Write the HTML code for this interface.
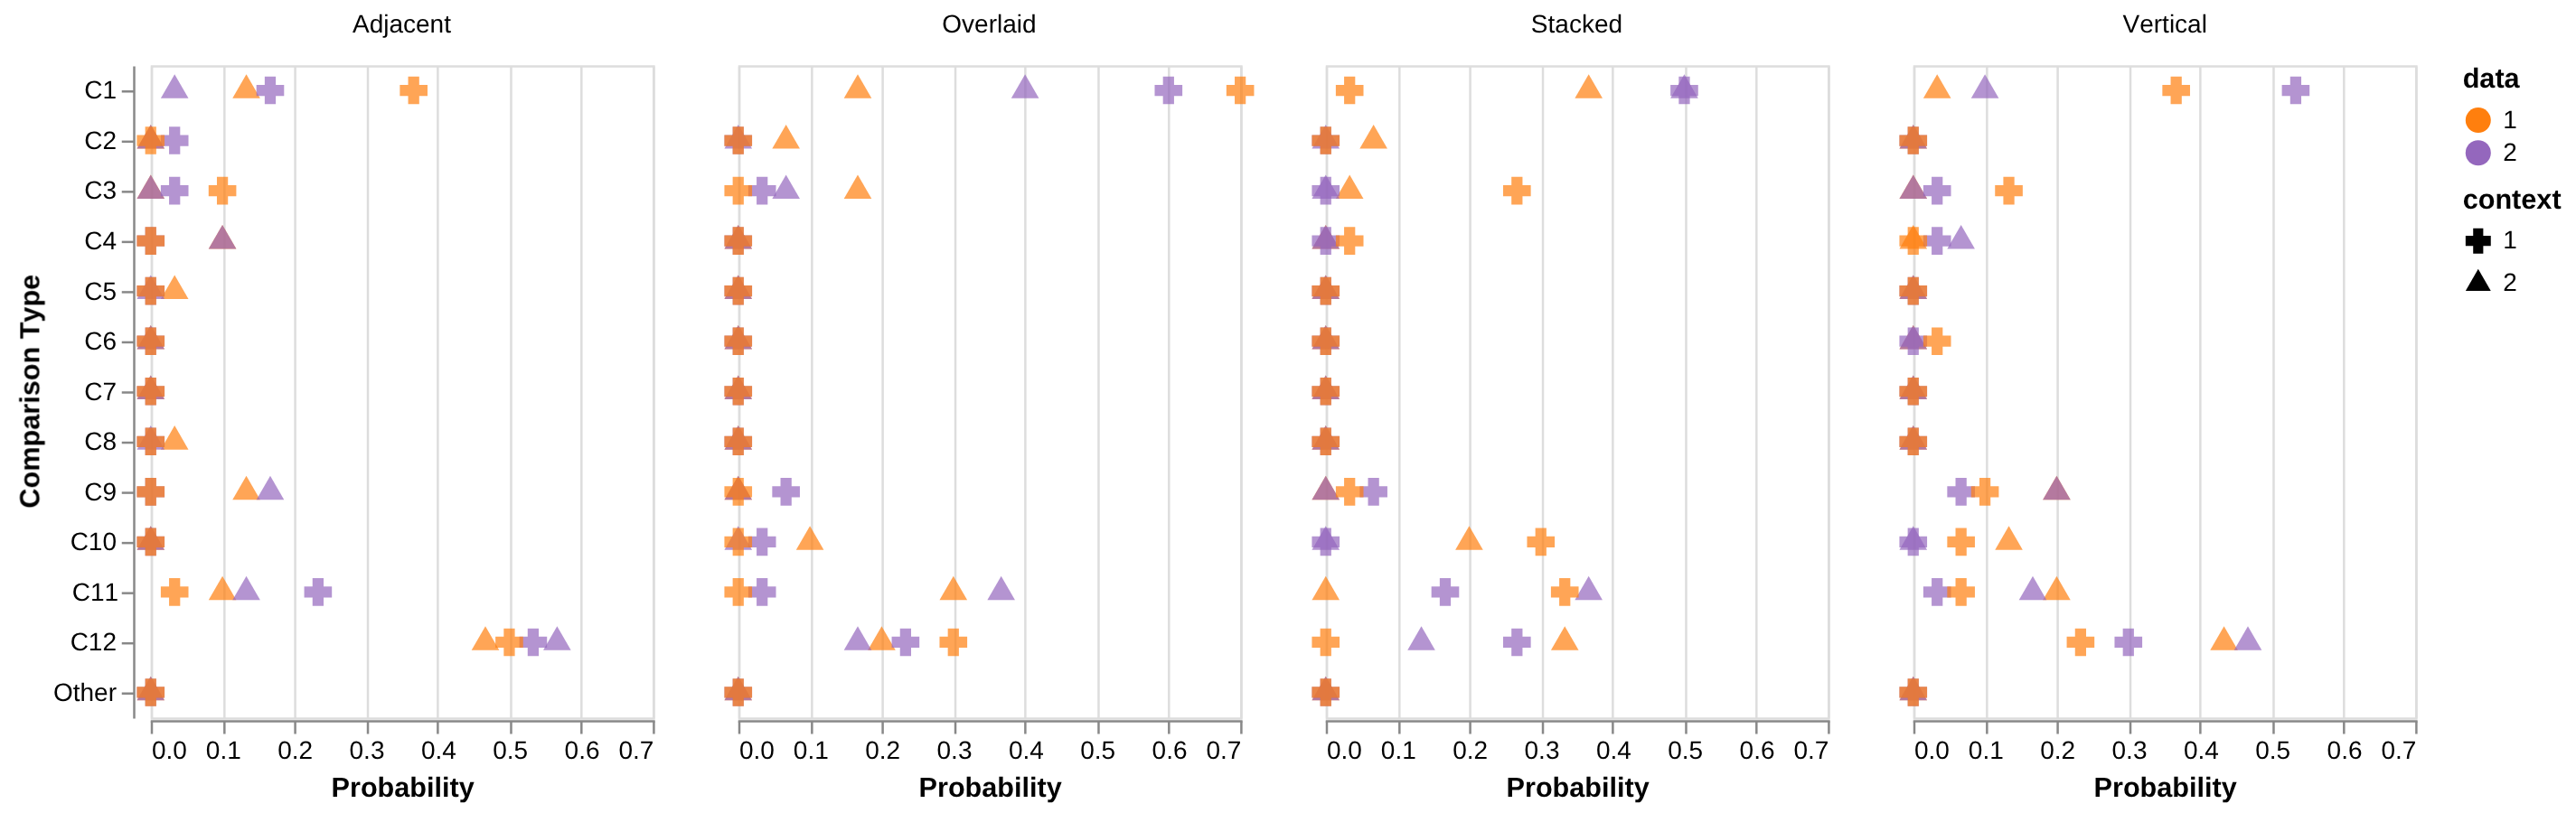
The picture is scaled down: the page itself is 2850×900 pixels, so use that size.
<!DOCTYPE html>
<html><head><meta charset="utf-8"><title>Comparison Type by Probability</title>
<style>html,body{margin:0;padding:0;background:#fff;}svg{display:block;}text{font-family:"Liberation Sans",sans-serif;fill:#000;text-rendering:geometricPrecision;font-kerning:none;}.b{font-weight:bold;}</style></head><body>
<svg width="2850" height="900" viewBox="0 0 2850 900">
<rect x="0" y="0" width="2850" height="900" fill="#fff"/>
<g opacity="0.999">
<text class="b" transform="translate(43.4 433.25) rotate(-90)" text-anchor="middle" font-size="30.65">Comparison Type</text>
<g stroke="#888888" stroke-width="2.5" fill="none">
<line x1="148.5" y1="73.5" x2="148.5" y2="795.5"/>
<line x1="134.75" y1="101.27" x2="148.5" y2="101.27"/>
<line x1="134.75" y1="156.81" x2="148.5" y2="156.81"/>
<line x1="134.75" y1="212.35" x2="148.5" y2="212.35"/>
<line x1="134.75" y1="267.88" x2="148.5" y2="267.88"/>
<line x1="134.75" y1="323.42" x2="148.5" y2="323.42"/>
<line x1="134.75" y1="378.96" x2="148.5" y2="378.96"/>
<line x1="134.75" y1="434.5" x2="148.5" y2="434.5"/>
<line x1="134.75" y1="490.04" x2="148.5" y2="490.04"/>
<line x1="134.75" y1="545.58" x2="148.5" y2="545.58"/>
<line x1="134.75" y1="601.12" x2="148.5" y2="601.12"/>
<line x1="134.75" y1="656.65" x2="148.5" y2="656.65"/>
<line x1="134.75" y1="712.19" x2="148.5" y2="712.19"/>
<line x1="134.75" y1="767.73" x2="148.5" y2="767.73"/>
</g>
<g font-size="28" text-anchor="end">
<text x="129" y="109.37">C1</text>
<text x="129" y="164.91">C2</text>
<text x="129" y="220.45">C3</text>
<text x="129" y="275.98">C4</text>
<text x="129" y="331.52">C5</text>
<text x="129" y="387.06">C6</text>
<text x="129" y="442.6">C7</text>
<text x="129" y="498.14">C8</text>
<text x="129" y="553.68">C9</text>
<text x="129" y="609.22">C10</text>
<text x="131.08" y="664.75">C11</text>
<text x="129" y="720.29">C12</text>
<text x="129" y="775.83">Other</text>
</g>
<text x="444.45" y="36" text-anchor="middle" font-size="28">Adjacent</text>
<g stroke="#dddddd" stroke-width="2.5" fill="none">
<line x1="168" y1="73.5" x2="168" y2="795.5"/>
<line x1="248.34" y1="73.5" x2="248.34" y2="795.5"/>
<line x1="326.59" y1="73.5" x2="326.59" y2="795.5"/>
<line x1="407.03" y1="73.5" x2="407.03" y2="795.5"/>
<line x1="484.37" y1="73.5" x2="484.37" y2="795.5"/>
<line x1="565.47" y1="73.5" x2="565.47" y2="795.5"/>
<line x1="643.31" y1="73.5" x2="643.31" y2="795.5"/>
<line x1="723.4" y1="73.5" x2="723.4" y2="795.5"/>
<rect x="168" y="73.5" width="555.4" height="722"/>
</g>
<g stroke="#888888" stroke-width="2.5" fill="none">
<line x1="166.75" y1="798.5" x2="724.65" y2="798.5"/>
<line x1="168" y1="798.5" x2="168" y2="812.5"/>
<line x1="248.34" y1="798.5" x2="248.34" y2="812.5"/>
<line x1="326.59" y1="798.5" x2="326.59" y2="812.5"/>
<line x1="407.03" y1="798.5" x2="407.03" y2="812.5"/>
<line x1="484.37" y1="798.5" x2="484.37" y2="812.5"/>
<line x1="565.47" y1="798.5" x2="565.47" y2="812.5"/>
<line x1="643.31" y1="798.5" x2="643.31" y2="812.5"/>
<line x1="723.4" y1="798.5" x2="723.4" y2="812.5"/>
</g>
<g font-size="28">
<text x="168" y="840.46" text-anchor="start">0.0</text>
<text x="247.34" y="840.46" text-anchor="middle">0.1</text>
<text x="326.69" y="840.46" text-anchor="middle">0.2</text>
<text x="406.03" y="840.46" text-anchor="middle">0.3</text>
<text x="485.37" y="840.46" text-anchor="middle">0.4</text>
<text x="564.71" y="840.46" text-anchor="middle">0.5</text>
<text x="644.06" y="840.46" text-anchor="middle">0.6</text>
<text x="723.4" y="840.46" text-anchor="end">0.7</text>
</g>
<text class="b" x="445.7" y="882.1" text-anchor="middle" font-size="30.65">Probability</text>
<path d="M272.54 82.34L257.23 108.86L287.85 108.86Z" fill="#ff7f0e" fill-opacity="0.7"/>
<path d="M166.75 137.88L151.44 164.4L182.06 164.4Z" fill="#ff7f0e" fill-opacity="0.7"/>
<path d="M166.75 193.42L151.44 219.93L182.06 219.93Z" fill="#ff7f0e" fill-opacity="0.7"/>
<path d="M246.09 248.96L230.78 275.47L261.4 275.47Z" fill="#ff7f0e" fill-opacity="0.7"/>
<path d="M193.2 304.5L177.89 331.01L208.51 331.01Z" fill="#ff7f0e" fill-opacity="0.7"/>
<path d="M166.75 360.03L151.44 386.55L182.06 386.55Z" fill="#ff7f0e" fill-opacity="0.7"/>
<path d="M166.75 415.57L151.44 442.09L182.06 442.09Z" fill="#ff7f0e" fill-opacity="0.7"/>
<path d="M193.2 471.11L177.89 497.63L208.51 497.63Z" fill="#ff7f0e" fill-opacity="0.7"/>
<path d="M272.54 526.65L257.23 553.17L287.85 553.17Z" fill="#ff7f0e" fill-opacity="0.7"/>
<path d="M166.75 582.19L151.44 608.7L182.06 608.7Z" fill="#ff7f0e" fill-opacity="0.7"/>
<path d="M246.09 637.73L230.78 664.24L261.4 664.24Z" fill="#ff7f0e" fill-opacity="0.7"/>
<path d="M537.02 693.26L521.71 719.78L552.33 719.78Z" fill="#ff7f0e" fill-opacity="0.7"/>
<path d="M166.75 748.8L151.44 775.32L182.06 775.32Z" fill="#ff7f0e" fill-opacity="0.7"/>
<path d="M193.2 82.34L177.89 108.86L208.51 108.86Z" fill="#9467bd" fill-opacity="0.7"/>
<path d="M166.75 137.88L151.44 164.4L182.06 164.4Z" fill="#9467bd" fill-opacity="0.7"/>
<path d="M166.75 193.42L151.44 219.93L182.06 219.93Z" fill="#9467bd" fill-opacity="0.7"/>
<path d="M246.09 248.96L230.78 275.47L261.4 275.47Z" fill="#9467bd" fill-opacity="0.7"/>
<path d="M166.75 304.5L151.44 331.01L182.06 331.01Z" fill="#9467bd" fill-opacity="0.7"/>
<path d="M166.75 360.03L151.44 386.55L182.06 386.55Z" fill="#9467bd" fill-opacity="0.7"/>
<path d="M166.75 415.57L151.44 442.09L182.06 442.09Z" fill="#9467bd" fill-opacity="0.7"/>
<path d="M166.75 471.11L151.44 497.63L182.06 497.63Z" fill="#9467bd" fill-opacity="0.7"/>
<path d="M298.99 526.65L283.68 553.17L314.3 553.17Z" fill="#9467bd" fill-opacity="0.7"/>
<path d="M166.75 582.19L151.44 608.7L182.06 608.7Z" fill="#9467bd" fill-opacity="0.7"/>
<path d="M272.54 637.73L257.23 664.24L287.85 664.24Z" fill="#9467bd" fill-opacity="0.7"/>
<path d="M616.36 693.26L601.05 719.78L631.67 719.78Z" fill="#9467bd" fill-opacity="0.7"/>
<path d="M166.75 748.8L151.44 775.32L182.06 775.32Z" fill="#9467bd" fill-opacity="0.7"/>
<path d="M283.68 93.9L283.68 106.14L292.86 106.14L292.86 115.33L305.11 115.33L305.11 106.14L314.3 106.14L314.3 93.9L305.11 93.9L305.11 84.71L292.86 84.71L292.86 93.9Z" fill="#9467bd" fill-opacity="0.7"/>
<path d="M177.89 149.43L177.89 161.68L187.07 161.68L187.07 170.87L199.32 170.87L199.32 161.68L208.51 161.68L208.51 149.43L199.32 149.43L199.32 140.25L187.07 140.25L187.07 149.43Z" fill="#9467bd" fill-opacity="0.7"/>
<path d="M177.89 204.97L177.89 217.22L187.07 217.22L187.07 226.41L199.32 226.41L199.32 217.22L208.51 217.22L208.51 204.97L199.32 204.97L199.32 195.79L187.07 195.79L187.07 204.97Z" fill="#9467bd" fill-opacity="0.7"/>
<path d="M151.44 260.51L151.44 272.76L160.63 272.76L160.63 281.94L172.87 281.94L172.87 272.76L182.06 272.76L182.06 260.51L172.87 260.51L172.87 251.33L160.63 251.33L160.63 260.51Z" fill="#9467bd" fill-opacity="0.7"/>
<path d="M151.44 316.05L151.44 328.3L160.63 328.3L160.63 337.48L172.87 337.48L172.87 328.3L182.06 328.3L182.06 316.05L172.87 316.05L172.87 306.86L160.63 306.86L160.63 316.05Z" fill="#9467bd" fill-opacity="0.7"/>
<path d="M151.44 371.59L151.44 383.84L160.63 383.84L160.63 393.02L172.87 393.02L172.87 383.84L182.06 383.84L182.06 371.59L172.87 371.59L172.87 362.4L160.63 362.4L160.63 371.59Z" fill="#9467bd" fill-opacity="0.7"/>
<path d="M151.44 427.13L151.44 439.37L160.63 439.37L160.63 448.56L172.87 448.56L172.87 439.37L182.06 439.37L182.06 427.13L172.87 427.13L172.87 417.94L160.63 417.94L160.63 427.13Z" fill="#9467bd" fill-opacity="0.7"/>
<path d="M151.44 482.66L151.44 494.91L160.63 494.91L160.63 504.1L172.87 504.1L172.87 494.91L182.06 494.91L182.06 482.66L172.87 482.66L172.87 473.48L160.63 473.48L160.63 482.66Z" fill="#9467bd" fill-opacity="0.7"/>
<path d="M151.44 538.2L151.44 550.45L160.63 550.45L160.63 559.64L172.87 559.64L172.87 550.45L182.06 550.45L182.06 538.2L172.87 538.2L172.87 529.02L160.63 529.02L160.63 538.2Z" fill="#9467bd" fill-opacity="0.7"/>
<path d="M151.44 593.74L151.44 605.99L160.63 605.99L160.63 615.17L172.87 615.17L172.87 605.99L182.06 605.99L182.06 593.74L172.87 593.74L172.87 584.56L160.63 584.56L160.63 593.74Z" fill="#9467bd" fill-opacity="0.7"/>
<path d="M336.57 649.28L336.57 661.53L345.76 661.53L345.76 670.71L358.01 670.71L358.01 661.53L367.19 661.53L367.19 649.28L358.01 649.28L358.01 640.09L345.76 640.09L345.76 649.28Z" fill="#9467bd" fill-opacity="0.7"/>
<path d="M574.6 704.82L574.6 717.07L583.79 717.07L583.79 726.25L596.04 726.25L596.04 717.07L605.22 717.07L605.22 704.82L596.04 704.82L596.04 695.63L583.79 695.63L583.79 704.82Z" fill="#9467bd" fill-opacity="0.7"/>
<path d="M151.44 760.36L151.44 772.6L160.63 772.6L160.63 781.79L172.87 781.79L172.87 772.6L182.06 772.6L182.06 760.36L172.87 760.36L172.87 751.17L160.63 751.17L160.63 760.36Z" fill="#9467bd" fill-opacity="0.7"/>
<path d="M442.36 93.9L442.36 106.14L451.55 106.14L451.55 115.33L463.8 115.33L463.8 106.14L472.98 106.14L472.98 93.9L463.8 93.9L463.8 84.71L451.55 84.71L451.55 93.9Z" fill="#ff7f0e" fill-opacity="0.7"/>
<path d="M151.44 149.43L151.44 161.68L160.63 161.68L160.63 170.87L172.87 170.87L172.87 161.68L182.06 161.68L182.06 149.43L172.87 149.43L172.87 140.25L160.63 140.25L160.63 149.43Z" fill="#ff7f0e" fill-opacity="0.7"/>
<path d="M230.78 204.97L230.78 217.22L239.97 217.22L239.97 226.41L252.22 226.41L252.22 217.22L261.4 217.22L261.4 204.97L252.22 204.97L252.22 195.79L239.97 195.79L239.97 204.97Z" fill="#ff7f0e" fill-opacity="0.7"/>
<path d="M151.44 260.51L151.44 272.76L160.63 272.76L160.63 281.94L172.87 281.94L172.87 272.76L182.06 272.76L182.06 260.51L172.87 260.51L172.87 251.33L160.63 251.33L160.63 260.51Z" fill="#ff7f0e" fill-opacity="0.7"/>
<path d="M151.44 316.05L151.44 328.3L160.63 328.3L160.63 337.48L172.87 337.48L172.87 328.3L182.06 328.3L182.06 316.05L172.87 316.05L172.87 306.86L160.63 306.86L160.63 316.05Z" fill="#ff7f0e" fill-opacity="0.7"/>
<path d="M151.44 371.59L151.44 383.84L160.63 383.84L160.63 393.02L172.87 393.02L172.87 383.84L182.06 383.84L182.06 371.59L172.87 371.59L172.87 362.4L160.63 362.4L160.63 371.59Z" fill="#ff7f0e" fill-opacity="0.7"/>
<path d="M151.44 427.13L151.44 439.37L160.63 439.37L160.63 448.56L172.87 448.56L172.87 439.37L182.06 439.37L182.06 427.13L172.87 427.13L172.87 417.94L160.63 417.94L160.63 427.13Z" fill="#ff7f0e" fill-opacity="0.7"/>
<path d="M151.44 482.66L151.44 494.91L160.63 494.91L160.63 504.1L172.87 504.1L172.87 494.91L182.06 494.91L182.06 482.66L172.87 482.66L172.87 473.48L160.63 473.48L160.63 482.66Z" fill="#ff7f0e" fill-opacity="0.7"/>
<path d="M151.44 538.2L151.44 550.45L160.63 550.45L160.63 559.64L172.87 559.64L172.87 550.45L182.06 550.45L182.06 538.2L172.87 538.2L172.87 529.02L160.63 529.02L160.63 538.2Z" fill="#ff7f0e" fill-opacity="0.7"/>
<path d="M151.44 593.74L151.44 605.99L160.63 605.99L160.63 615.17L172.87 615.17L172.87 605.99L182.06 605.99L182.06 593.74L172.87 593.74L172.87 584.56L160.63 584.56L160.63 593.74Z" fill="#ff7f0e" fill-opacity="0.7"/>
<path d="M177.89 649.28L177.89 661.53L187.07 661.53L187.07 670.71L199.32 670.71L199.32 661.53L208.51 661.53L208.51 649.28L199.32 649.28L199.32 640.09L187.07 640.09L187.07 649.28Z" fill="#ff7f0e" fill-opacity="0.7"/>
<path d="M548.15 704.82L548.15 717.07L557.34 717.07L557.34 726.25L569.59 726.25L569.59 717.07L578.77 717.07L578.77 704.82L569.59 704.82L569.59 695.63L557.34 695.63L557.34 704.82Z" fill="#ff7f0e" fill-opacity="0.7"/>
<path d="M151.44 760.36L151.44 772.6L160.63 772.6L160.63 781.79L172.87 781.79L172.87 772.6L182.06 772.6L182.06 760.36L172.87 760.36L172.87 751.17L160.63 751.17L160.63 760.36Z" fill="#ff7f0e" fill-opacity="0.7"/>
<text x="1094.45" y="36" text-anchor="middle" font-size="28">Overlaid</text>
<g stroke="#dddddd" stroke-width="2.5" fill="none">
<line x1="818" y1="73.5" x2="818" y2="795.5"/>
<line x1="898.34" y1="73.5" x2="898.34" y2="795.5"/>
<line x1="976.59" y1="73.5" x2="976.59" y2="795.5"/>
<line x1="1057.03" y1="73.5" x2="1057.03" y2="795.5"/>
<line x1="1134.37" y1="73.5" x2="1134.37" y2="795.5"/>
<line x1="1215.47" y1="73.5" x2="1215.47" y2="795.5"/>
<line x1="1293.31" y1="73.5" x2="1293.31" y2="795.5"/>
<line x1="1373.4" y1="73.5" x2="1373.4" y2="795.5"/>
<rect x="818" y="73.5" width="555.4" height="722"/>
</g>
<g stroke="#888888" stroke-width="2.5" fill="none">
<line x1="816.75" y1="798.5" x2="1374.65" y2="798.5"/>
<line x1="818" y1="798.5" x2="818" y2="812.5"/>
<line x1="898.34" y1="798.5" x2="898.34" y2="812.5"/>
<line x1="976.59" y1="798.5" x2="976.59" y2="812.5"/>
<line x1="1057.03" y1="798.5" x2="1057.03" y2="812.5"/>
<line x1="1134.37" y1="798.5" x2="1134.37" y2="812.5"/>
<line x1="1215.47" y1="798.5" x2="1215.47" y2="812.5"/>
<line x1="1293.31" y1="798.5" x2="1293.31" y2="812.5"/>
<line x1="1373.4" y1="798.5" x2="1373.4" y2="812.5"/>
</g>
<g font-size="28">
<text x="818" y="840.46" text-anchor="start">0.0</text>
<text x="897.34" y="840.46" text-anchor="middle">0.1</text>
<text x="976.69" y="840.46" text-anchor="middle">0.2</text>
<text x="1056.03" y="840.46" text-anchor="middle">0.3</text>
<text x="1135.37" y="840.46" text-anchor="middle">0.4</text>
<text x="1214.71" y="840.46" text-anchor="middle">0.5</text>
<text x="1294.06" y="840.46" text-anchor="middle">0.6</text>
<text x="1373.4" y="840.46" text-anchor="end">0.7</text>
</g>
<text class="b" x="1095.7" y="882.1" text-anchor="middle" font-size="30.65">Probability</text>
<path d="M948.99 82.34L933.68 108.86L964.3 108.86Z" fill="#ff7f0e" fill-opacity="0.7"/>
<path d="M869.65 137.88L854.34 164.4L884.95 164.4Z" fill="#ff7f0e" fill-opacity="0.7"/>
<path d="M948.99 193.42L933.68 219.93L964.3 219.93Z" fill="#ff7f0e" fill-opacity="0.7"/>
<path d="M816.75 248.96L801.44 275.47L832.06 275.47Z" fill="#ff7f0e" fill-opacity="0.7"/>
<path d="M816.75 304.5L801.44 331.01L832.06 331.01Z" fill="#ff7f0e" fill-opacity="0.7"/>
<path d="M816.75 360.03L801.44 386.55L832.06 386.55Z" fill="#ff7f0e" fill-opacity="0.7"/>
<path d="M816.75 415.57L801.44 442.09L832.06 442.09Z" fill="#ff7f0e" fill-opacity="0.7"/>
<path d="M816.75 471.11L801.44 497.63L832.06 497.63Z" fill="#ff7f0e" fill-opacity="0.7"/>
<path d="M816.75 526.65L801.44 553.17L832.06 553.17Z" fill="#ff7f0e" fill-opacity="0.7"/>
<path d="M896.09 582.19L880.78 608.7L911.4 608.7Z" fill="#ff7f0e" fill-opacity="0.7"/>
<path d="M1054.78 637.73L1039.47 664.24L1070.09 664.24Z" fill="#ff7f0e" fill-opacity="0.7"/>
<path d="M975.44 693.26L960.13 719.78L990.75 719.78Z" fill="#ff7f0e" fill-opacity="0.7"/>
<path d="M816.75 748.8L801.44 775.32L832.06 775.32Z" fill="#ff7f0e" fill-opacity="0.7"/>
<path d="M1134.12 82.34L1118.81 108.86L1149.43 108.86Z" fill="#9467bd" fill-opacity="0.7"/>
<path d="M816.75 137.88L801.44 164.4L832.06 164.4Z" fill="#9467bd" fill-opacity="0.7"/>
<path d="M869.65 193.42L854.34 219.93L884.95 219.93Z" fill="#9467bd" fill-opacity="0.7"/>
<path d="M816.75 248.96L801.44 275.47L832.06 275.47Z" fill="#9467bd" fill-opacity="0.7"/>
<path d="M816.75 304.5L801.44 331.01L832.06 331.01Z" fill="#9467bd" fill-opacity="0.7"/>
<path d="M816.75 360.03L801.44 386.55L832.06 386.55Z" fill="#9467bd" fill-opacity="0.7"/>
<path d="M816.75 415.57L801.44 442.09L832.06 442.09Z" fill="#9467bd" fill-opacity="0.7"/>
<path d="M816.75 471.11L801.44 497.63L832.06 497.63Z" fill="#9467bd" fill-opacity="0.7"/>
<path d="M816.75 526.65L801.44 553.17L832.06 553.17Z" fill="#9467bd" fill-opacity="0.7"/>
<path d="M816.75 582.19L801.44 608.7L832.06 608.7Z" fill="#9467bd" fill-opacity="0.7"/>
<path d="M1107.67 637.73L1092.36 664.24L1122.98 664.24Z" fill="#9467bd" fill-opacity="0.7"/>
<path d="M948.99 693.26L933.68 719.78L964.3 719.78Z" fill="#9467bd" fill-opacity="0.7"/>
<path d="M816.75 748.8L801.44 775.32L832.06 775.32Z" fill="#9467bd" fill-opacity="0.7"/>
<path d="M1277.5 93.9L1277.5 106.14L1286.68 106.14L1286.68 115.33L1298.93 115.33L1298.93 106.14L1308.12 106.14L1308.12 93.9L1298.93 93.9L1298.93 84.71L1286.68 84.71L1286.68 93.9Z" fill="#9467bd" fill-opacity="0.7"/>
<path d="M801.44 149.43L801.44 161.68L810.63 161.68L810.63 170.87L822.87 170.87L822.87 161.68L832.06 161.68L832.06 149.43L822.87 149.43L822.87 140.25L810.63 140.25L810.63 149.43Z" fill="#9467bd" fill-opacity="0.7"/>
<path d="M827.89 204.97L827.89 217.22L837.07 217.22L837.07 226.41L849.32 226.41L849.32 217.22L858.51 217.22L858.51 204.97L849.32 204.97L849.32 195.79L837.07 195.79L837.07 204.97Z" fill="#9467bd" fill-opacity="0.7"/>
<path d="M801.44 260.51L801.44 272.76L810.63 272.76L810.63 281.94L822.87 281.94L822.87 272.76L832.06 272.76L832.06 260.51L822.87 260.51L822.87 251.33L810.63 251.33L810.63 260.51Z" fill="#9467bd" fill-opacity="0.7"/>
<path d="M801.44 316.05L801.44 328.3L810.63 328.3L810.63 337.48L822.87 337.48L822.87 328.3L832.06 328.3L832.06 316.05L822.87 316.05L822.87 306.86L810.63 306.86L810.63 316.05Z" fill="#9467bd" fill-opacity="0.7"/>
<path d="M801.44 371.59L801.44 383.84L810.63 383.84L810.63 393.02L822.87 393.02L822.87 383.84L832.06 383.84L832.06 371.59L822.87 371.59L822.87 362.4L810.63 362.4L810.63 371.59Z" fill="#9467bd" fill-opacity="0.7"/>
<path d="M801.44 427.13L801.44 439.37L810.63 439.37L810.63 448.56L822.87 448.56L822.87 439.37L832.06 439.37L832.06 427.13L822.87 427.13L822.87 417.94L810.63 417.94L810.63 427.13Z" fill="#9467bd" fill-opacity="0.7"/>
<path d="M801.44 482.66L801.44 494.91L810.63 494.91L810.63 504.1L822.87 504.1L822.87 494.91L832.06 494.91L832.06 482.66L822.87 482.66L822.87 473.48L810.63 473.48L810.63 482.66Z" fill="#9467bd" fill-opacity="0.7"/>
<path d="M854.34 538.2L854.34 550.45L863.52 550.45L863.52 559.64L875.77 559.64L875.77 550.45L884.95 550.45L884.95 538.2L875.77 538.2L875.77 529.02L863.52 529.02L863.52 538.2Z" fill="#9467bd" fill-opacity="0.7"/>
<path d="M827.89 593.74L827.89 605.99L837.07 605.99L837.07 615.17L849.32 615.17L849.32 605.99L858.51 605.99L858.51 593.74L849.32 593.74L849.32 584.56L837.07 584.56L837.07 593.74Z" fill="#9467bd" fill-opacity="0.7"/>
<path d="M827.89 649.28L827.89 661.53L837.07 661.53L837.07 670.71L849.32 670.71L849.32 661.53L858.51 661.53L858.51 649.28L849.32 649.28L849.32 640.09L837.07 640.09L837.07 649.28Z" fill="#9467bd" fill-opacity="0.7"/>
<path d="M986.57 704.82L986.57 717.07L995.76 717.07L995.76 726.25L1008.01 726.25L1008.01 717.07L1017.19 717.07L1017.19 704.82L1008.01 704.82L1008.01 695.63L995.76 695.63L995.76 704.82Z" fill="#9467bd" fill-opacity="0.7"/>
<path d="M801.44 760.36L801.44 772.6L810.63 772.6L810.63 781.79L822.87 781.79L822.87 772.6L832.06 772.6L832.06 760.36L822.87 760.36L822.87 751.17L810.63 751.17L810.63 760.36Z" fill="#9467bd" fill-opacity="0.7"/>
<path d="M1356.84 93.9L1356.84 106.14L1366.03 106.14L1366.03 115.33L1378.27 115.33L1378.27 106.14L1387.46 106.14L1387.46 93.9L1378.27 93.9L1378.27 84.71L1366.03 84.71L1366.03 93.9Z" fill="#ff7f0e" fill-opacity="0.7"/>
<path d="M801.44 149.43L801.44 161.68L810.63 161.68L810.63 170.87L822.87 170.87L822.87 161.68L832.06 161.68L832.06 149.43L822.87 149.43L822.87 140.25L810.63 140.25L810.63 149.43Z" fill="#ff7f0e" fill-opacity="0.7"/>
<path d="M801.44 204.97L801.44 217.22L810.63 217.22L810.63 226.41L822.87 226.41L822.87 217.22L832.06 217.22L832.06 204.97L822.87 204.97L822.87 195.79L810.63 195.79L810.63 204.97Z" fill="#ff7f0e" fill-opacity="0.7"/>
<path d="M801.44 260.51L801.44 272.76L810.63 272.76L810.63 281.94L822.87 281.94L822.87 272.76L832.06 272.76L832.06 260.51L822.87 260.51L822.87 251.33L810.63 251.33L810.63 260.51Z" fill="#ff7f0e" fill-opacity="0.7"/>
<path d="M801.44 316.05L801.44 328.3L810.63 328.3L810.63 337.48L822.87 337.48L822.87 328.3L832.06 328.3L832.06 316.05L822.87 316.05L822.87 306.86L810.63 306.86L810.63 316.05Z" fill="#ff7f0e" fill-opacity="0.7"/>
<path d="M801.44 371.59L801.44 383.84L810.63 383.84L810.63 393.02L822.87 393.02L822.87 383.84L832.06 383.84L832.06 371.59L822.87 371.59L822.87 362.4L810.63 362.4L810.63 371.59Z" fill="#ff7f0e" fill-opacity="0.7"/>
<path d="M801.44 427.13L801.44 439.37L810.63 439.37L810.63 448.56L822.87 448.56L822.87 439.37L832.06 439.37L832.06 427.13L822.87 427.13L822.87 417.94L810.63 417.94L810.63 427.13Z" fill="#ff7f0e" fill-opacity="0.7"/>
<path d="M801.44 482.66L801.44 494.91L810.63 494.91L810.63 504.1L822.87 504.1L822.87 494.91L832.06 494.91L832.06 482.66L822.87 482.66L822.87 473.48L810.63 473.48L810.63 482.66Z" fill="#ff7f0e" fill-opacity="0.7"/>
<path d="M801.44 538.2L801.44 550.45L810.63 550.45L810.63 559.64L822.87 559.64L822.87 550.45L832.06 550.45L832.06 538.2L822.87 538.2L822.87 529.02L810.63 529.02L810.63 538.2Z" fill="#ff7f0e" fill-opacity="0.7"/>
<path d="M801.44 593.74L801.44 605.99L810.63 605.99L810.63 615.17L822.87 615.17L822.87 605.99L832.06 605.99L832.06 593.74L822.87 593.74L822.87 584.56L810.63 584.56L810.63 593.74Z" fill="#ff7f0e" fill-opacity="0.7"/>
<path d="M801.44 649.28L801.44 661.53L810.63 661.53L810.63 670.71L822.87 670.71L822.87 661.53L832.06 661.53L832.06 649.28L822.87 649.28L822.87 640.09L810.63 640.09L810.63 649.28Z" fill="#ff7f0e" fill-opacity="0.7"/>
<path d="M1039.47 704.82L1039.47 717.07L1048.65 717.07L1048.65 726.25L1060.9 726.25L1060.9 717.07L1070.09 717.07L1070.09 704.82L1060.9 704.82L1060.9 695.63L1048.65 695.63L1048.65 704.82Z" fill="#ff7f0e" fill-opacity="0.7"/>
<path d="M801.44 760.36L801.44 772.6L810.63 772.6L810.63 781.79L822.87 781.79L822.87 772.6L832.06 772.6L832.06 760.36L822.87 760.36L822.87 751.17L810.63 751.17L810.63 760.36Z" fill="#ff7f0e" fill-opacity="0.7"/>
<text x="1744.45" y="36" text-anchor="middle" font-size="28">Stacked</text>
<g stroke="#dddddd" stroke-width="2.5" fill="none">
<line x1="1468" y1="73.5" x2="1468" y2="795.5"/>
<line x1="1548.34" y1="73.5" x2="1548.34" y2="795.5"/>
<line x1="1626.59" y1="73.5" x2="1626.59" y2="795.5"/>
<line x1="1707.03" y1="73.5" x2="1707.03" y2="795.5"/>
<line x1="1784.37" y1="73.5" x2="1784.37" y2="795.5"/>
<line x1="1865.47" y1="73.5" x2="1865.47" y2="795.5"/>
<line x1="1943.31" y1="73.5" x2="1943.31" y2="795.5"/>
<line x1="2023.4" y1="73.5" x2="2023.4" y2="795.5"/>
<rect x="1468" y="73.5" width="555.4" height="722"/>
</g>
<g stroke="#888888" stroke-width="2.5" fill="none">
<line x1="1466.75" y1="798.5" x2="2024.65" y2="798.5"/>
<line x1="1468" y1="798.5" x2="1468" y2="812.5"/>
<line x1="1548.34" y1="798.5" x2="1548.34" y2="812.5"/>
<line x1="1626.59" y1="798.5" x2="1626.59" y2="812.5"/>
<line x1="1707.03" y1="798.5" x2="1707.03" y2="812.5"/>
<line x1="1784.37" y1="798.5" x2="1784.37" y2="812.5"/>
<line x1="1865.47" y1="798.5" x2="1865.47" y2="812.5"/>
<line x1="1943.31" y1="798.5" x2="1943.31" y2="812.5"/>
<line x1="2023.4" y1="798.5" x2="2023.4" y2="812.5"/>
</g>
<g font-size="28">
<text x="1468" y="840.46" text-anchor="start">0.0</text>
<text x="1547.34" y="840.46" text-anchor="middle">0.1</text>
<text x="1626.69" y="840.46" text-anchor="middle">0.2</text>
<text x="1706.03" y="840.46" text-anchor="middle">0.3</text>
<text x="1785.37" y="840.46" text-anchor="middle">0.4</text>
<text x="1864.71" y="840.46" text-anchor="middle">0.5</text>
<text x="1944.06" y="840.46" text-anchor="middle">0.6</text>
<text x="2023.4" y="840.46" text-anchor="end">0.7</text>
</g>
<text class="b" x="1745.7" y="882.1" text-anchor="middle" font-size="30.65">Probability</text>
<path d="M1757.67 82.34L1742.36 108.86L1772.98 108.86Z" fill="#ff7f0e" fill-opacity="0.7"/>
<path d="M1519.65 137.88L1504.34 164.4L1534.95 164.4Z" fill="#ff7f0e" fill-opacity="0.7"/>
<path d="M1493.2 193.42L1477.89 219.93L1508.51 219.93Z" fill="#ff7f0e" fill-opacity="0.7"/>
<path d="M1466.75 248.96L1451.44 275.47L1482.06 275.47Z" fill="#ff7f0e" fill-opacity="0.7"/>
<path d="M1466.75 304.5L1451.44 331.01L1482.06 331.01Z" fill="#ff7f0e" fill-opacity="0.7"/>
<path d="M1466.75 360.03L1451.44 386.55L1482.06 386.55Z" fill="#ff7f0e" fill-opacity="0.7"/>
<path d="M1466.75 415.57L1451.44 442.09L1482.06 442.09Z" fill="#ff7f0e" fill-opacity="0.7"/>
<path d="M1466.75 471.11L1451.44 497.63L1482.06 497.63Z" fill="#ff7f0e" fill-opacity="0.7"/>
<path d="M1466.75 526.65L1451.44 553.17L1482.06 553.17Z" fill="#ff7f0e" fill-opacity="0.7"/>
<path d="M1625.44 582.19L1610.13 608.7L1640.75 608.7Z" fill="#ff7f0e" fill-opacity="0.7"/>
<path d="M1466.75 637.73L1451.44 664.24L1482.06 664.24Z" fill="#ff7f0e" fill-opacity="0.7"/>
<path d="M1731.23 693.26L1715.92 719.78L1746.54 719.78Z" fill="#ff7f0e" fill-opacity="0.7"/>
<path d="M1466.75 748.8L1451.44 775.32L1482.06 775.32Z" fill="#ff7f0e" fill-opacity="0.7"/>
<path d="M1863.46 82.34L1848.15 108.86L1878.77 108.86Z" fill="#9467bd" fill-opacity="0.7"/>
<path d="M1466.75 137.88L1451.44 164.4L1482.06 164.4Z" fill="#9467bd" fill-opacity="0.7"/>
<path d="M1466.75 193.42L1451.44 219.93L1482.06 219.93Z" fill="#9467bd" fill-opacity="0.7"/>
<path d="M1466.75 248.96L1451.44 275.47L1482.06 275.47Z" fill="#9467bd" fill-opacity="0.7"/>
<path d="M1466.75 304.5L1451.44 331.01L1482.06 331.01Z" fill="#9467bd" fill-opacity="0.7"/>
<path d="M1466.75 360.03L1451.44 386.55L1482.06 386.55Z" fill="#9467bd" fill-opacity="0.7"/>
<path d="M1466.75 415.57L1451.44 442.09L1482.06 442.09Z" fill="#9467bd" fill-opacity="0.7"/>
<path d="M1466.75 471.11L1451.44 497.63L1482.06 497.63Z" fill="#9467bd" fill-opacity="0.7"/>
<path d="M1466.75 526.65L1451.44 553.17L1482.06 553.17Z" fill="#9467bd" fill-opacity="0.7"/>
<path d="M1466.75 582.19L1451.44 608.7L1482.06 608.7Z" fill="#9467bd" fill-opacity="0.7"/>
<path d="M1757.67 637.73L1742.36 664.24L1772.98 664.24Z" fill="#9467bd" fill-opacity="0.7"/>
<path d="M1572.54 693.26L1557.23 719.78L1587.85 719.78Z" fill="#9467bd" fill-opacity="0.7"/>
<path d="M1466.75 748.8L1451.44 775.32L1482.06 775.32Z" fill="#9467bd" fill-opacity="0.7"/>
<path d="M1848.15 93.9L1848.15 106.14L1857.34 106.14L1857.34 115.33L1869.59 115.33L1869.59 106.14L1878.77 106.14L1878.77 93.9L1869.59 93.9L1869.59 84.71L1857.34 84.71L1857.34 93.9Z" fill="#9467bd" fill-opacity="0.7"/>
<path d="M1451.44 149.43L1451.44 161.68L1460.63 161.68L1460.63 170.87L1472.87 170.87L1472.87 161.68L1482.06 161.68L1482.06 149.43L1472.87 149.43L1472.87 140.25L1460.63 140.25L1460.63 149.43Z" fill="#9467bd" fill-opacity="0.7"/>
<path d="M1451.44 204.97L1451.44 217.22L1460.63 217.22L1460.63 226.41L1472.87 226.41L1472.87 217.22L1482.06 217.22L1482.06 204.97L1472.87 204.97L1472.87 195.79L1460.63 195.79L1460.63 204.97Z" fill="#9467bd" fill-opacity="0.7"/>
<path d="M1451.44 260.51L1451.44 272.76L1460.63 272.76L1460.63 281.94L1472.87 281.94L1472.87 272.76L1482.06 272.76L1482.06 260.51L1472.87 260.51L1472.87 251.33L1460.63 251.33L1460.63 260.51Z" fill="#9467bd" fill-opacity="0.7"/>
<path d="M1451.44 316.05L1451.44 328.3L1460.63 328.3L1460.63 337.48L1472.87 337.48L1472.87 328.3L1482.06 328.3L1482.06 316.05L1472.87 316.05L1472.87 306.86L1460.63 306.86L1460.63 316.05Z" fill="#9467bd" fill-opacity="0.7"/>
<path d="M1451.44 371.59L1451.44 383.84L1460.63 383.84L1460.63 393.02L1472.87 393.02L1472.87 383.84L1482.06 383.84L1482.06 371.59L1472.87 371.59L1472.87 362.4L1460.63 362.4L1460.63 371.59Z" fill="#9467bd" fill-opacity="0.7"/>
<path d="M1451.44 427.13L1451.44 439.37L1460.63 439.37L1460.63 448.56L1472.87 448.56L1472.87 439.37L1482.06 439.37L1482.06 427.13L1472.87 427.13L1472.87 417.94L1460.63 417.94L1460.63 427.13Z" fill="#9467bd" fill-opacity="0.7"/>
<path d="M1451.44 482.66L1451.44 494.91L1460.63 494.91L1460.63 504.1L1472.87 504.1L1472.87 494.91L1482.06 494.91L1482.06 482.66L1472.87 482.66L1472.87 473.48L1460.63 473.48L1460.63 482.66Z" fill="#9467bd" fill-opacity="0.7"/>
<path d="M1504.34 538.2L1504.34 550.45L1513.52 550.45L1513.52 559.64L1525.77 559.64L1525.77 550.45L1534.95 550.45L1534.95 538.2L1525.77 538.2L1525.77 529.02L1513.52 529.02L1513.52 538.2Z" fill="#9467bd" fill-opacity="0.7"/>
<path d="M1451.44 593.74L1451.44 605.99L1460.63 605.99L1460.63 615.17L1472.87 615.17L1472.87 605.99L1482.06 605.99L1482.06 593.74L1472.87 593.74L1472.87 584.56L1460.63 584.56L1460.63 593.74Z" fill="#9467bd" fill-opacity="0.7"/>
<path d="M1583.68 649.28L1583.68 661.53L1592.86 661.53L1592.86 670.71L1605.11 670.71L1605.11 661.53L1614.3 661.53L1614.3 649.28L1605.11 649.28L1605.11 640.09L1592.86 640.09L1592.86 649.28Z" fill="#9467bd" fill-opacity="0.7"/>
<path d="M1663.02 704.82L1663.02 717.07L1672.21 717.07L1672.21 726.25L1684.45 726.25L1684.45 717.07L1693.64 717.07L1693.64 704.82L1684.45 704.82L1684.45 695.63L1672.21 695.63L1672.21 704.82Z" fill="#9467bd" fill-opacity="0.7"/>
<path d="M1451.44 760.36L1451.44 772.6L1460.63 772.6L1460.63 781.79L1472.87 781.79L1472.87 772.6L1482.06 772.6L1482.06 760.36L1472.87 760.36L1472.87 751.17L1460.63 751.17L1460.63 760.36Z" fill="#9467bd" fill-opacity="0.7"/>
<path d="M1477.89 93.9L1477.89 106.14L1487.07 106.14L1487.07 115.33L1499.32 115.33L1499.32 106.14L1508.51 106.14L1508.51 93.9L1499.32 93.9L1499.32 84.71L1487.07 84.71L1487.07 93.9Z" fill="#ff7f0e" fill-opacity="0.7"/>
<path d="M1451.44 149.43L1451.44 161.68L1460.63 161.68L1460.63 170.87L1472.87 170.87L1472.87 161.68L1482.06 161.68L1482.06 149.43L1472.87 149.43L1472.87 140.25L1460.63 140.25L1460.63 149.43Z" fill="#ff7f0e" fill-opacity="0.7"/>
<path d="M1663.02 204.97L1663.02 217.22L1672.21 217.22L1672.21 226.41L1684.45 226.41L1684.45 217.22L1693.64 217.22L1693.64 204.97L1684.45 204.97L1684.45 195.79L1672.21 195.79L1672.21 204.97Z" fill="#ff7f0e" fill-opacity="0.7"/>
<path d="M1477.89 260.51L1477.89 272.76L1487.07 272.76L1487.07 281.94L1499.32 281.94L1499.32 272.76L1508.51 272.76L1508.51 260.51L1499.32 260.51L1499.32 251.33L1487.07 251.33L1487.07 260.51Z" fill="#ff7f0e" fill-opacity="0.7"/>
<path d="M1451.44 316.05L1451.44 328.3L1460.63 328.3L1460.63 337.48L1472.87 337.48L1472.87 328.3L1482.06 328.3L1482.06 316.05L1472.87 316.05L1472.87 306.86L1460.63 306.86L1460.63 316.05Z" fill="#ff7f0e" fill-opacity="0.7"/>
<path d="M1451.44 371.59L1451.44 383.84L1460.63 383.84L1460.63 393.02L1472.87 393.02L1472.87 383.84L1482.06 383.84L1482.06 371.59L1472.87 371.59L1472.87 362.4L1460.63 362.4L1460.63 371.59Z" fill="#ff7f0e" fill-opacity="0.7"/>
<path d="M1451.44 427.13L1451.44 439.37L1460.63 439.37L1460.63 448.56L1472.87 448.56L1472.87 439.37L1482.06 439.37L1482.06 427.13L1472.87 427.13L1472.87 417.94L1460.63 417.94L1460.63 427.13Z" fill="#ff7f0e" fill-opacity="0.7"/>
<path d="M1451.44 482.66L1451.44 494.91L1460.63 494.91L1460.63 504.1L1472.87 504.1L1472.87 494.91L1482.06 494.91L1482.06 482.66L1472.87 482.66L1472.87 473.48L1460.63 473.48L1460.63 482.66Z" fill="#ff7f0e" fill-opacity="0.7"/>
<path d="M1477.89 538.2L1477.89 550.45L1487.07 550.45L1487.07 559.64L1499.32 559.64L1499.32 550.45L1508.51 550.45L1508.51 538.2L1499.32 538.2L1499.32 529.02L1487.07 529.02L1487.07 538.2Z" fill="#ff7f0e" fill-opacity="0.7"/>
<path d="M1689.47 593.74L1689.47 605.99L1698.65 605.99L1698.65 615.17L1710.9 615.17L1710.9 605.99L1720.09 605.99L1720.09 593.74L1710.9 593.74L1710.9 584.56L1698.65 584.56L1698.65 593.74Z" fill="#ff7f0e" fill-opacity="0.7"/>
<path d="M1715.92 649.28L1715.92 661.53L1725.1 661.53L1725.1 670.71L1737.35 670.71L1737.35 661.53L1746.54 661.53L1746.54 649.28L1737.35 649.28L1737.35 640.09L1725.1 640.09L1725.1 649.28Z" fill="#ff7f0e" fill-opacity="0.7"/>
<path d="M1451.44 704.82L1451.44 717.07L1460.63 717.07L1460.63 726.25L1472.87 726.25L1472.87 717.07L1482.06 717.07L1482.06 704.82L1472.87 704.82L1472.87 695.63L1460.63 695.63L1460.63 704.82Z" fill="#ff7f0e" fill-opacity="0.7"/>
<path d="M1451.44 760.36L1451.44 772.6L1460.63 772.6L1460.63 781.79L1472.87 781.79L1472.87 772.6L1482.06 772.6L1482.06 760.36L1472.87 760.36L1472.87 751.17L1460.63 751.17L1460.63 760.36Z" fill="#ff7f0e" fill-opacity="0.7"/>
<text x="2395.22" y="36" text-anchor="middle" font-size="28">Vertical</text>
<g stroke="#dddddd" stroke-width="2.5" fill="none">
<line x1="2118" y1="73.5" x2="2118" y2="795.5"/>
<line x1="2198.34" y1="73.5" x2="2198.34" y2="795.5"/>
<line x1="2276.59" y1="73.5" x2="2276.59" y2="795.5"/>
<line x1="2357.03" y1="73.5" x2="2357.03" y2="795.5"/>
<line x1="2434.37" y1="73.5" x2="2434.37" y2="795.5"/>
<line x1="2515.47" y1="73.5" x2="2515.47" y2="795.5"/>
<line x1="2593.31" y1="73.5" x2="2593.31" y2="795.5"/>
<line x1="2673.4" y1="73.5" x2="2673.4" y2="795.5"/>
<rect x="2118" y="73.5" width="555.4" height="722"/>
</g>
<g stroke="#888888" stroke-width="2.5" fill="none">
<line x1="2116.75" y1="798.5" x2="2674.65" y2="798.5"/>
<line x1="2118" y1="798.5" x2="2118" y2="812.5"/>
<line x1="2198.34" y1="798.5" x2="2198.34" y2="812.5"/>
<line x1="2276.59" y1="798.5" x2="2276.59" y2="812.5"/>
<line x1="2357.03" y1="798.5" x2="2357.03" y2="812.5"/>
<line x1="2434.37" y1="798.5" x2="2434.37" y2="812.5"/>
<line x1="2515.47" y1="798.5" x2="2515.47" y2="812.5"/>
<line x1="2593.31" y1="798.5" x2="2593.31" y2="812.5"/>
<line x1="2673.4" y1="798.5" x2="2673.4" y2="812.5"/>
</g>
<g font-size="28">
<text x="2118" y="840.46" text-anchor="start">0.0</text>
<text x="2197.34" y="840.46" text-anchor="middle">0.1</text>
<text x="2276.69" y="840.46" text-anchor="middle">0.2</text>
<text x="2356.03" y="840.46" text-anchor="middle">0.3</text>
<text x="2435.37" y="840.46" text-anchor="middle">0.4</text>
<text x="2514.71" y="840.46" text-anchor="middle">0.5</text>
<text x="2594.06" y="840.46" text-anchor="middle">0.6</text>
<text x="2673.4" y="840.46" text-anchor="end">0.7</text>
</g>
<text class="b" x="2395.7" y="882.1" text-anchor="middle" font-size="30.65">Probability</text>
<path d="M2143.2 82.34L2127.89 108.86L2158.51 108.86Z" fill="#ff7f0e" fill-opacity="0.7"/>
<path d="M2116.75 137.88L2101.44 164.4L2132.06 164.4Z" fill="#ff7f0e" fill-opacity="0.7"/>
<path d="M2116.75 193.42L2101.44 219.93L2132.06 219.93Z" fill="#ff7f0e" fill-opacity="0.7"/>
<path d="M2116.75 248.96L2101.44 275.47L2132.06 275.47Z" fill="#ff7f0e" fill-opacity="0.7"/>
<path d="M2116.75 304.5L2101.44 331.01L2132.06 331.01Z" fill="#ff7f0e" fill-opacity="0.7"/>
<path d="M2116.75 360.03L2101.44 386.55L2132.06 386.55Z" fill="#ff7f0e" fill-opacity="0.7"/>
<path d="M2116.75 415.57L2101.44 442.09L2132.06 442.09Z" fill="#ff7f0e" fill-opacity="0.7"/>
<path d="M2116.75 471.11L2101.44 497.63L2132.06 497.63Z" fill="#ff7f0e" fill-opacity="0.7"/>
<path d="M2275.44 526.65L2260.13 553.17L2290.75 553.17Z" fill="#ff7f0e" fill-opacity="0.7"/>
<path d="M2222.54 582.19L2207.23 608.7L2237.85 608.7Z" fill="#ff7f0e" fill-opacity="0.7"/>
<path d="M2275.44 637.73L2260.13 664.24L2290.75 664.24Z" fill="#ff7f0e" fill-opacity="0.7"/>
<path d="M2460.57 693.26L2445.26 719.78L2475.88 719.78Z" fill="#ff7f0e" fill-opacity="0.7"/>
<path d="M2116.75 748.8L2101.44 775.32L2132.06 775.32Z" fill="#ff7f0e" fill-opacity="0.7"/>
<path d="M2196.09 82.34L2180.78 108.86L2211.4 108.86Z" fill="#9467bd" fill-opacity="0.7"/>
<path d="M2116.75 137.88L2101.44 164.4L2132.06 164.4Z" fill="#9467bd" fill-opacity="0.7"/>
<path d="M2116.75 193.42L2101.44 219.93L2132.06 219.93Z" fill="#9467bd" fill-opacity="0.7"/>
<path d="M2169.65 248.96L2154.34 275.47L2184.95 275.47Z" fill="#9467bd" fill-opacity="0.7"/>
<path d="M2116.75 304.5L2101.44 331.01L2132.06 331.01Z" fill="#9467bd" fill-opacity="0.7"/>
<path d="M2116.75 360.03L2101.44 386.55L2132.06 386.55Z" fill="#9467bd" fill-opacity="0.7"/>
<path d="M2116.75 415.57L2101.44 442.09L2132.06 442.09Z" fill="#9467bd" fill-opacity="0.7"/>
<path d="M2116.75 471.11L2101.44 497.63L2132.06 497.63Z" fill="#9467bd" fill-opacity="0.7"/>
<path d="M2275.44 526.65L2260.13 553.17L2290.75 553.17Z" fill="#9467bd" fill-opacity="0.7"/>
<path d="M2116.75 582.19L2101.44 608.7L2132.06 608.7Z" fill="#9467bd" fill-opacity="0.7"/>
<path d="M2248.99 637.73L2233.68 664.24L2264.3 664.24Z" fill="#9467bd" fill-opacity="0.7"/>
<path d="M2487.02 693.26L2471.71 719.78L2502.33 719.78Z" fill="#9467bd" fill-opacity="0.7"/>
<path d="M2116.75 748.8L2101.44 775.32L2132.06 775.32Z" fill="#9467bd" fill-opacity="0.7"/>
<path d="M2524.6 93.9L2524.6 106.14L2533.79 106.14L2533.79 115.33L2546.04 115.33L2546.04 106.14L2555.22 106.14L2555.22 93.9L2546.04 93.9L2546.04 84.71L2533.79 84.71L2533.79 93.9Z" fill="#9467bd" fill-opacity="0.7"/>
<path d="M2101.44 149.43L2101.44 161.68L2110.63 161.68L2110.63 170.87L2122.87 170.87L2122.87 161.68L2132.06 161.68L2132.06 149.43L2122.87 149.43L2122.87 140.25L2110.63 140.25L2110.63 149.43Z" fill="#9467bd" fill-opacity="0.7"/>
<path d="M2127.89 204.97L2127.89 217.22L2137.07 217.22L2137.07 226.41L2149.32 226.41L2149.32 217.22L2158.51 217.22L2158.51 204.97L2149.32 204.97L2149.32 195.79L2137.07 195.79L2137.07 204.97Z" fill="#9467bd" fill-opacity="0.7"/>
<path d="M2127.89 260.51L2127.89 272.76L2137.07 272.76L2137.07 281.94L2149.32 281.94L2149.32 272.76L2158.51 272.76L2158.51 260.51L2149.32 260.51L2149.32 251.33L2137.07 251.33L2137.07 260.51Z" fill="#9467bd" fill-opacity="0.7"/>
<path d="M2101.44 316.05L2101.44 328.3L2110.63 328.3L2110.63 337.48L2122.87 337.48L2122.87 328.3L2132.06 328.3L2132.06 316.05L2122.87 316.05L2122.87 306.86L2110.63 306.86L2110.63 316.05Z" fill="#9467bd" fill-opacity="0.7"/>
<path d="M2101.44 371.59L2101.44 383.84L2110.63 383.84L2110.63 393.02L2122.87 393.02L2122.87 383.84L2132.06 383.84L2132.06 371.59L2122.87 371.59L2122.87 362.4L2110.63 362.4L2110.63 371.59Z" fill="#9467bd" fill-opacity="0.7"/>
<path d="M2101.44 427.13L2101.44 439.37L2110.63 439.37L2110.63 448.56L2122.87 448.56L2122.87 439.37L2132.06 439.37L2132.06 427.13L2122.87 427.13L2122.87 417.94L2110.63 417.94L2110.63 427.13Z" fill="#9467bd" fill-opacity="0.7"/>
<path d="M2101.44 482.66L2101.44 494.91L2110.63 494.91L2110.63 504.1L2122.87 504.1L2122.87 494.91L2132.06 494.91L2132.06 482.66L2122.87 482.66L2122.87 473.48L2110.63 473.48L2110.63 482.66Z" fill="#9467bd" fill-opacity="0.7"/>
<path d="M2154.34 538.2L2154.34 550.45L2163.52 550.45L2163.52 559.64L2175.77 559.64L2175.77 550.45L2184.95 550.45L2184.95 538.2L2175.77 538.2L2175.77 529.02L2163.52 529.02L2163.52 538.2Z" fill="#9467bd" fill-opacity="0.7"/>
<path d="M2101.44 593.74L2101.44 605.99L2110.63 605.99L2110.63 615.17L2122.87 615.17L2122.87 605.99L2132.06 605.99L2132.06 593.74L2122.87 593.74L2122.87 584.56L2110.63 584.56L2110.63 593.74Z" fill="#9467bd" fill-opacity="0.7"/>
<path d="M2127.89 649.28L2127.89 661.53L2137.07 661.53L2137.07 670.71L2149.32 670.71L2149.32 661.53L2158.51 661.53L2158.51 649.28L2149.32 649.28L2149.32 640.09L2137.07 640.09L2137.07 649.28Z" fill="#9467bd" fill-opacity="0.7"/>
<path d="M2339.47 704.82L2339.47 717.07L2348.65 717.07L2348.65 726.25L2360.9 726.25L2360.9 717.07L2370.09 717.07L2370.09 704.82L2360.9 704.82L2360.9 695.63L2348.65 695.63L2348.65 704.82Z" fill="#9467bd" fill-opacity="0.7"/>
<path d="M2101.44 760.36L2101.44 772.6L2110.63 772.6L2110.63 781.79L2122.87 781.79L2122.87 772.6L2132.06 772.6L2132.06 760.36L2122.87 760.36L2122.87 751.17L2110.63 751.17L2110.63 760.36Z" fill="#9467bd" fill-opacity="0.7"/>
<path d="M2392.36 93.9L2392.36 106.14L2401.55 106.14L2401.55 115.33L2413.8 115.33L2413.8 106.14L2422.98 106.14L2422.98 93.9L2413.8 93.9L2413.8 84.71L2401.55 84.71L2401.55 93.9Z" fill="#ff7f0e" fill-opacity="0.7"/>
<path d="M2101.44 149.43L2101.44 161.68L2110.63 161.68L2110.63 170.87L2122.87 170.87L2122.87 161.68L2132.06 161.68L2132.06 149.43L2122.87 149.43L2122.87 140.25L2110.63 140.25L2110.63 149.43Z" fill="#ff7f0e" fill-opacity="0.7"/>
<path d="M2207.23 204.97L2207.23 217.22L2216.42 217.22L2216.42 226.41L2228.66 226.41L2228.66 217.22L2237.85 217.22L2237.85 204.97L2228.66 204.97L2228.66 195.79L2216.42 195.79L2216.42 204.97Z" fill="#ff7f0e" fill-opacity="0.7"/>
<path d="M2101.44 260.51L2101.44 272.76L2110.63 272.76L2110.63 281.94L2122.87 281.94L2122.87 272.76L2132.06 272.76L2132.06 260.51L2122.87 260.51L2122.87 251.33L2110.63 251.33L2110.63 260.51Z" fill="#ff7f0e" fill-opacity="0.7"/>
<path d="M2101.44 316.05L2101.44 328.3L2110.63 328.3L2110.63 337.48L2122.87 337.48L2122.87 328.3L2132.06 328.3L2132.06 316.05L2122.87 316.05L2122.87 306.86L2110.63 306.86L2110.63 316.05Z" fill="#ff7f0e" fill-opacity="0.7"/>
<path d="M2127.89 371.59L2127.89 383.84L2137.07 383.84L2137.07 393.02L2149.32 393.02L2149.32 383.84L2158.51 383.84L2158.51 371.59L2149.32 371.59L2149.32 362.4L2137.07 362.4L2137.07 371.59Z" fill="#ff7f0e" fill-opacity="0.7"/>
<path d="M2101.44 427.13L2101.44 439.37L2110.63 439.37L2110.63 448.56L2122.87 448.56L2122.87 439.37L2132.06 439.37L2132.06 427.13L2122.87 427.13L2122.87 417.94L2110.63 417.94L2110.63 427.13Z" fill="#ff7f0e" fill-opacity="0.7"/>
<path d="M2101.44 482.66L2101.44 494.91L2110.63 494.91L2110.63 504.1L2122.87 504.1L2122.87 494.91L2132.06 494.91L2132.06 482.66L2122.87 482.66L2122.87 473.48L2110.63 473.48L2110.63 482.66Z" fill="#ff7f0e" fill-opacity="0.7"/>
<path d="M2180.78 538.2L2180.78 550.45L2189.97 550.45L2189.97 559.64L2202.22 559.64L2202.22 550.45L2211.4 550.45L2211.4 538.2L2202.22 538.2L2202.22 529.02L2189.97 529.02L2189.97 538.2Z" fill="#ff7f0e" fill-opacity="0.7"/>
<path d="M2154.34 593.74L2154.34 605.99L2163.52 605.99L2163.52 615.17L2175.77 615.17L2175.77 605.99L2184.95 605.99L2184.95 593.74L2175.77 593.74L2175.77 584.56L2163.52 584.56L2163.52 593.74Z" fill="#ff7f0e" fill-opacity="0.7"/>
<path d="M2154.34 649.28L2154.34 661.53L2163.52 661.53L2163.52 670.71L2175.77 670.71L2175.77 661.53L2184.95 661.53L2184.95 649.28L2175.77 649.28L2175.77 640.09L2163.52 640.09L2163.52 649.28Z" fill="#ff7f0e" fill-opacity="0.7"/>
<path d="M2286.57 704.82L2286.57 717.07L2295.76 717.07L2295.76 726.25L2308.01 726.25L2308.01 717.07L2317.19 717.07L2317.19 704.82L2308.01 704.82L2308.01 695.63L2295.76 695.63L2295.76 704.82Z" fill="#ff7f0e" fill-opacity="0.7"/>
<path d="M2101.44 760.36L2101.44 772.6L2110.63 772.6L2110.63 781.79L2122.87 781.79L2122.87 772.6L2132.06 772.6L2132.06 760.36L2122.87 760.36L2122.87 751.17L2110.63 751.17L2110.63 760.36Z" fill="#ff7f0e" fill-opacity="0.7"/>
<text class="b" x="2724.65" y="97" font-size="30.65">data</text>
<circle cx="2741.8" cy="133.08" r="14" fill="#ff7f0e"/>
<circle cx="2741.8" cy="169.27" r="14" fill="#9467bd"/>
<text x="2769.2" y="142" font-size="28">1</text>
<text x="2769.2" y="178" font-size="28">2</text>
<text class="b" x="2724.65" y="231" font-size="30.65">context</text>
<path d="M2727.85 261.12L2727.85 272.28L2736.22 272.28L2736.22 280.65L2747.38 280.65L2747.38 272.28L2755.75 272.28L2755.75 261.12L2747.38 261.12L2747.38 252.75L2736.22 252.75L2736.22 261.12Z" fill="#000"/>
<path d="M2741.8 297.73L2727.85 321.89L2755.75 321.89Z" fill="#000"/>
<text x="2769.2" y="275" font-size="28">1</text>
<text x="2769.2" y="322" font-size="28">2</text>
</g>
</svg></body></html>
